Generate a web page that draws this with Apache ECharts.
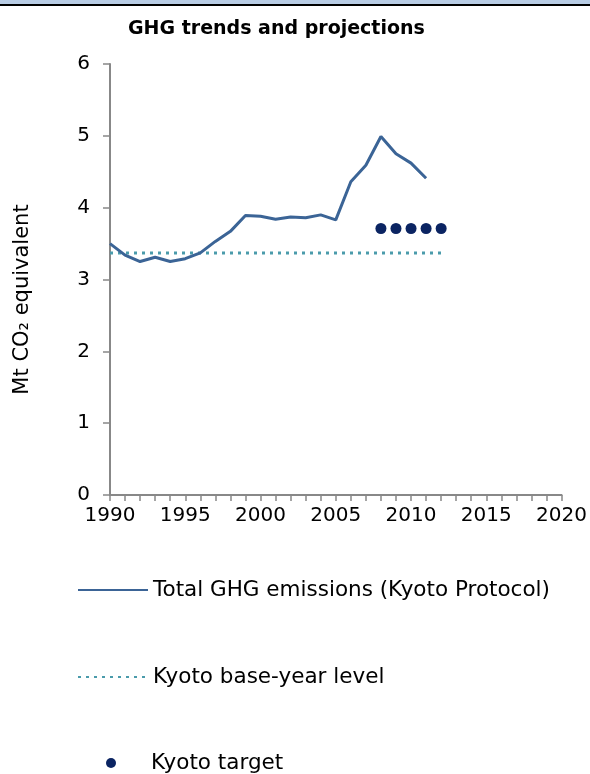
<!DOCTYPE html>
<html lang="en">
<head>
    <meta charset="UTF-8">
    <title>GHG trends and projections</title>
    <script src="https://cdn.jsdelivr.net/npm/echarts@6/dist/echarts.min.js"></script>
    <style>
        html, body { margin: 0; padding: 0; background: #fff; }
    </style>
</head>
<body>
    <div id="chart" style="width:590px;height:774px;"></div>

    <script>
        // emissions, Mt CO2 equivalent
        var years = [1990, 1991, 1992, 1993, 1994, 1995, 1996, 1997, 1998, 1999, 2000,
                     2001, 2002, 2003, 2004, 2005, 2006, 2007, 2008, 2009, 2010, 2011];
        var emissions = [3.50, 3.34, 3.25, 3.31, 3.25, 3.29, 3.37, 3.53, 3.67, 3.89, 3.88,
                         3.84, 3.87, 3.86, 3.90, 3.83, 4.36, 4.59, 4.99, 4.75, 4.62, 4.41];

        // Kyoto base-year level (flat line)
        var baseYears = [1990, 2012];
        var baseLevel = [3.37, 3.37];

        // Kyoto target, 2008-2012
        var targetYears = [2008, 2009, 2010, 2011, 2012];
        var targetValues = [3.71, 3.71, 3.71, 3.71, 3.71];

        var seriesNames = ['Total GHG emissions (Kyoto Protocol)', 'Kyoto base-year level', 'Kyoto target'];

        function pairs(xs, ys) {
            return xs.map(function (x, i) { return [x, ys[i]]; });
        }

        var font = 'DejaVu Sans';
        var chart = echarts.init(document.getElementById('chart'));

        // one legend per entry so they stack with the big gaps of the original
        var legendTops = [579, 666, 752];
        var legendLefts = [77, 77, 106];
        var legends = seriesNames.map(function (name, i) {
            var item = { name: name };
            if (i < 2) item.itemStyle = { opacity: 0 };   // line only, no dot
            return {
                orient: 'vertical',
                left: legendLefts[i],
                top: legendTops[i],
                padding: 0,
                itemWidth: 70,
                itemHeight: 10,
                selectedMode: false,
                textStyle: { color: '#000', fontSize: 21.5, fontFamily: font },
                data: [item]
            };
        });

        var option = {
            animation: false,
            textStyle: { fontFamily: font },
            // header band at the very top
            graphic: [
                { type: 'rect', shape: { x: 0, y: 0, width: 590, height: 4 }, style: { fill: '#b8cce4' } },
                { type: 'rect', shape: { x: 0, y: 4, width: 590, height: 2 }, style: { fill: '#000' } }
            ],
            title: {
                text: 'GHG trends and projections',
                left: 128,
                top: 20,
                padding: 0,
                textStyle: { fontFamily: font, fontSize: 19, fontWeight: 'bold', color: '#000' }
            },
            grid: { left: 110, right: 28, top: 64, bottom: 279 },
            xAxis: {
                type: 'value',
                min: 1990,
                max: 2020,
                interval: 5,
                axisLine: { lineStyle: { color: '#888', width: 2 } },
                axisTick: { show: true, length: 6, lineStyle: { color: '#888', width: 1.5 } },
                minorTick: { show: true, splitNumber: 5, length: 6, lineStyle: { color: '#888', width: 1.5 } },
                splitLine: { show: false },
                axisLabel: {
                    color: '#000', fontSize: 20, fontFamily: font, margin: 11,
                    formatter: function (v) { return String(v); }
                }
            },
            yAxis: {
                type: 'value',
                min: 0,
                max: 6,
                interval: 1,
                name: 'Mt CO₂ equivalent',
                nameLocation: 'middle',
                nameRotate: 90,
                nameGap: 77,
                nameTextStyle: { color: '#000', fontSize: 21, fontFamily: font, padding: [0, 40, 0, 0] },
                axisLine: { show: true, lineStyle: { color: '#888', width: 2 } },
                axisTick: { show: true, length: 7, lineStyle: { color: '#888', width: 1.5 } },
                splitLine: { show: false },
                axisLabel: { color: '#000', fontSize: 20, fontFamily: font, margin: 20 }
            },
            legend: legends,
            series: [
                {
                    name: seriesNames[0],
                    type: 'line',
                    symbol: 'none',
                    data: pairs(years, emissions),
                    lineStyle: { color: '#3b6496', width: 3 },
                    itemStyle: { color: '#3b6496' },
                    z: 3
                },
                {
                    name: seriesNames[1],
                    type: 'line',
                    symbol: 'none',
                    data: pairs(baseYears, baseLevel),
                    lineStyle: { color: '#4a9bab', width: 3, type: [3, 5] },
                    itemStyle: { color: '#4a9bab' },
                    z: 2
                },
                {
                    name: seriesNames[2],
                    type: 'scatter',
                    symbol: 'circle',
                    symbolSize: 11,
                    data: pairs(targetYears, targetValues),
                    itemStyle: { color: '#0b2462', opacity: 1 },
                    z: 4
                }
            ]
        };

        chart.setOption(option);
    </script>
</body>
</html>
